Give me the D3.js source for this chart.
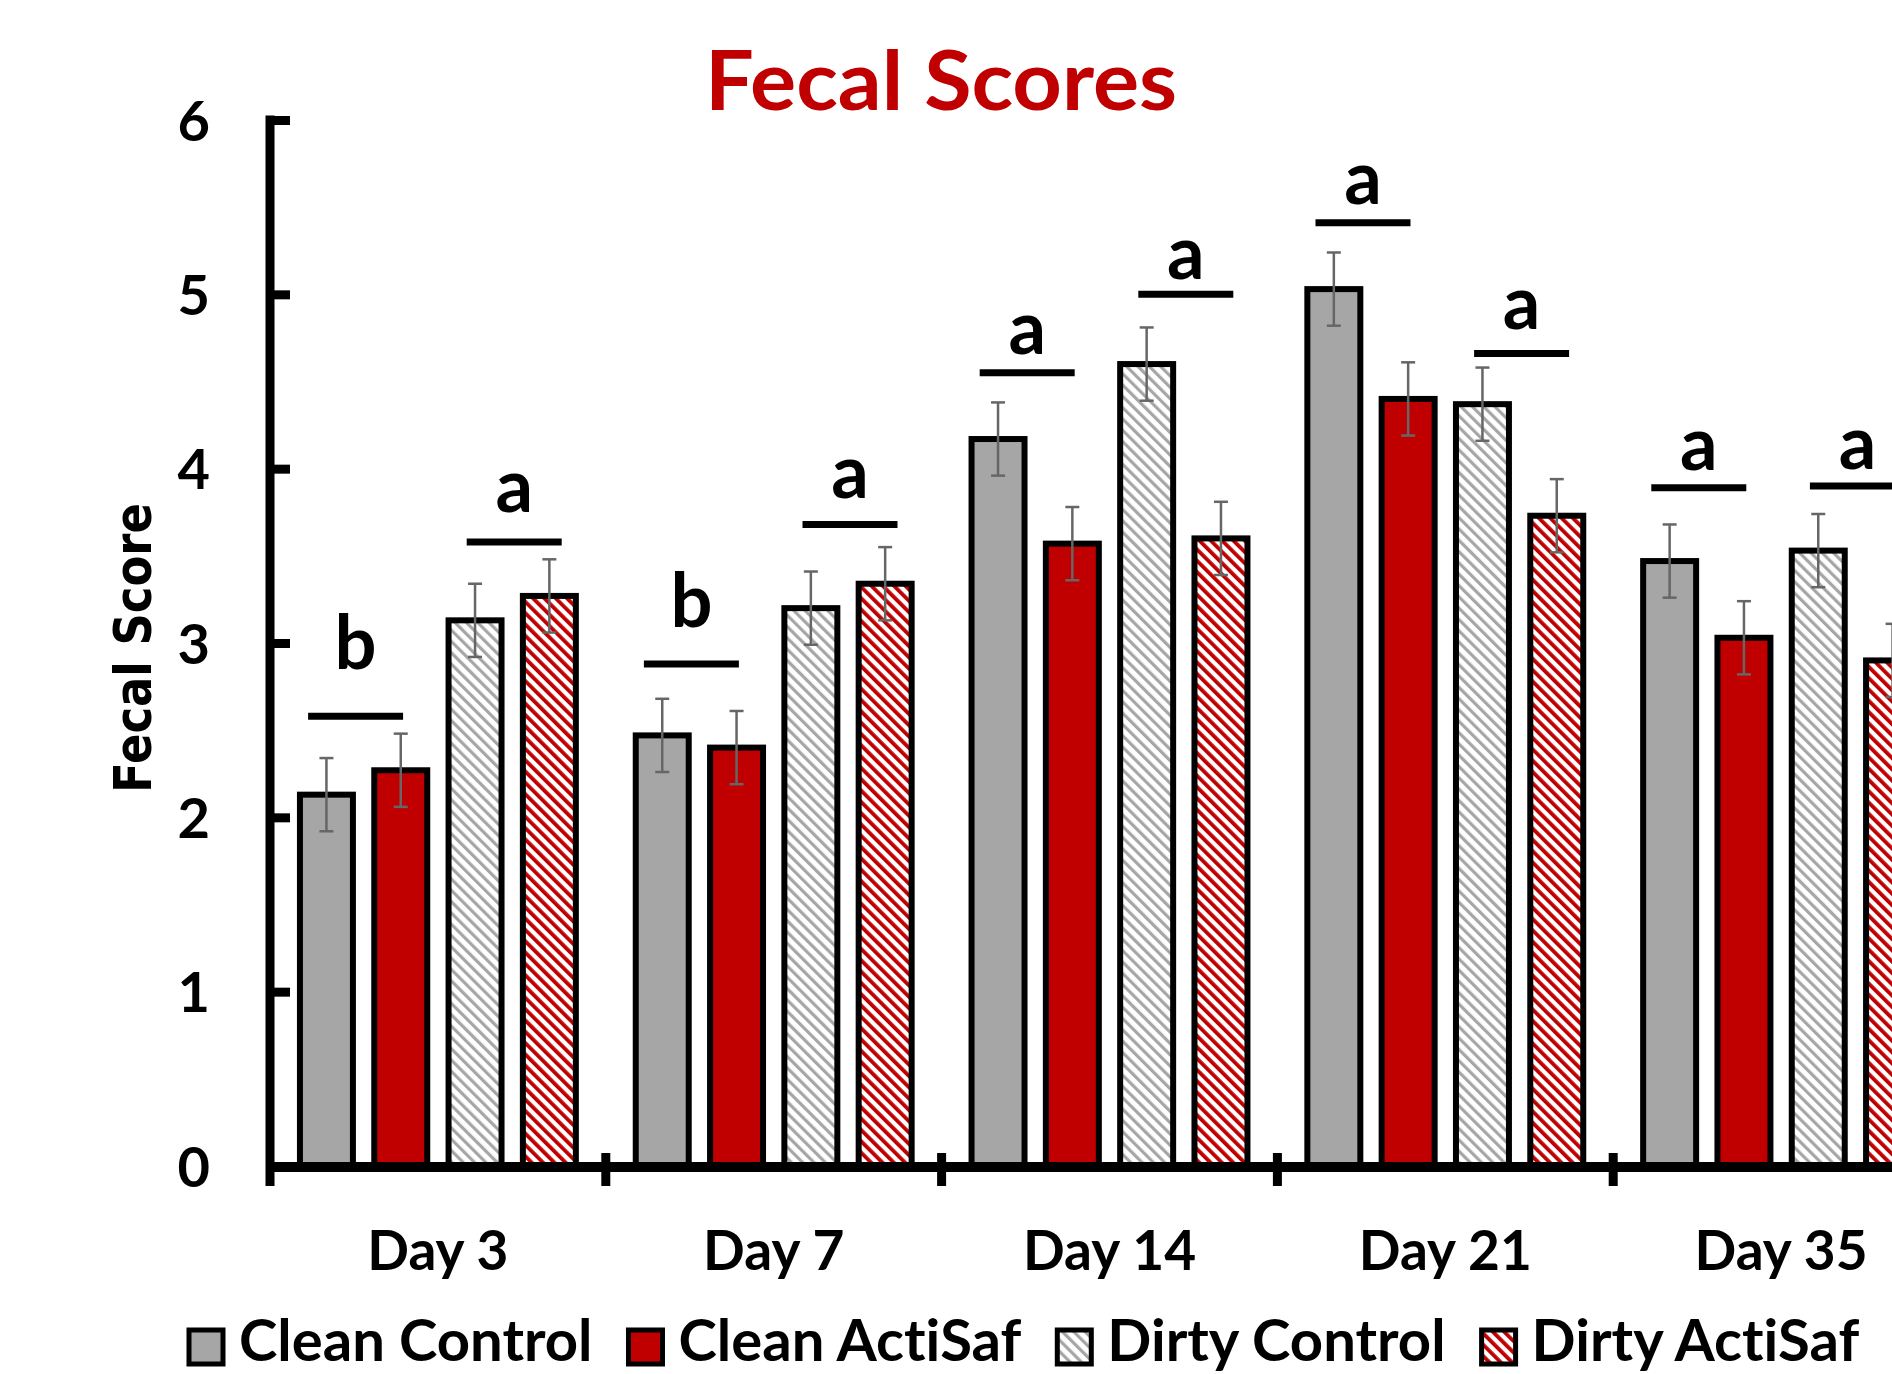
<!DOCTYPE html>
<html>
<head>
<meta charset="utf-8">
<script src="https://cdn.jsdelivr.net/npm/d3@7"></script>
<style>
  html, body { margin: 0; padding: 0; background: #fff; }
  svg { display: block; }
  text { font-variant-ligatures: none; font-feature-settings: "liga" 0, "dlig" 0; }
</style>
</head>
<body>
<svg id="chart" width="1892" height="1374"></svg>
<script>
// ---------------- DATA ----------------
const categories = ["Day 3", "Day 7", "Day 14", "Day 21", "Day 35"];
const seriesNames = ["Clean Control", "Clean ActiSaf", "Dirty Control", "Dirty ActiSaf"];
const cleanControl = [2.13, 2.47, 4.17, 5.03, 3.47];
const cleanActiSaf = [2.27, 2.40, 3.57, 4.40, 3.03];
const dirtyControl = [3.13, 3.20, 4.60, 4.37, 3.53];
const dirtyActiSaf = [3.27, 3.34, 3.60, 3.73, 2.90];
const errCleanControl = [0.21, 0.21, 0.21, 0.21, 0.21];
const errCleanActiSaf = [0.21, 0.21, 0.21, 0.21, 0.21];
const errDirtyControl = [0.21, 0.21, 0.21, 0.21, 0.21];
const errDirtyActiSaf = [0.21, 0.21, 0.21, 0.21, 0.21];
const yTicks = [0, 1, 2, 3, 4, 5, 6];
// significance annotations: pair of series indices, letter per category, line level & letter baseline level (score units)
const sigPairs = [[0, 1], [2, 3]];
const sigLetters = [["b", "a"], ["b", "a"], ["a", "a"], ["a", "a"], ["a", "a"]];
const sigLineLevel = [[2.58, 3.58], [2.88, 3.68], [4.55, 5.00], [5.41, 4.66], [3.89, 3.90]];
const sigLetterLevel = [[2.85, 3.75], [3.09, 3.83], [4.66, 5.09], [5.52, 4.80], [3.99, 4.00]];
const titleText = "Fecal Scores";
const yLabelText = "Fecal Score";

// ---------------- LAYOUT ----------------
const W = 1892, H = 1374;
const plotLeft = 270, plotTop = 120, plotBottom = 1166;
const bandW = 335.8;
const RED = "#C00000", GRAY = "#A6A6A6";
const calibriLike = "Lato, 'Open Sans', sans-serif";

const svg = d3.select("#chart");
svg.append("rect").attr("width", W).attr("height", H).attr("fill", "#fff");

const defs = svg.append("defs");
function hatch(id, color, sw) {
  const p = defs.append("pattern").attr("id", id)
    .attr("patternUnits", "userSpaceOnUse")
    .attr("width", 8).attr("height", 8)
    .attr("patternTransform", "rotate(-45)");
  p.append("rect").attr("width", 8).attr("height", 8).attr("fill", "#fff");
  p.append("rect").attr("x", 0).attr("y", 0).attr("width", sw).attr("height", 8).attr("fill", color);
}
hatch("hatchGray", GRAY, 3.2);
hatch("hatchRed", RED, 3.8);

const fills = [GRAY, RED, "url(#hatchGray)", "url(#hatchRed)"];
const seriesValues = [cleanControl, cleanActiSaf, dirtyControl, dirtyActiSaf];
const seriesErr = [errCleanControl, errCleanActiSaf, errDirtyControl, errDirtyActiSaf];

const x0 = d3.scaleBand().domain(categories)
  .range([plotLeft, plotLeft + bandW * categories.length]).paddingInner(0).paddingOuter(0);
const x1 = d3.scaleBand().domain(d3.range(seriesNames.length))
  .range([0, x0.bandwidth()]).paddingInner(0.287).paddingOuter(0.403);
const y = d3.scaleLinear().domain([0, 6]).range([plotBottom, plotTop]);

// ---------------- BARS ----------------
const data = [];
categories.forEach((c, ci) => seriesNames.forEach((s, si) => {
  data.push({ c, ci, si, v: seriesValues[si][ci], e: seriesErr[si][ci] });
}));

const gBars = svg.append("g");
gBars.selectAll("rect").data(data).join("rect")
  .attr("x", d => x0(d.c) + x1(d.si))
  .attr("y", d => y(d.v))
  .attr("width", x1.bandwidth())
  .attr("height", d => y(0) - y(d.v))
  .attr("fill", d => fills[d.si])
  .attr("stroke", "#000").attr("stroke-width", 6);

// error bars
const gErr = svg.append("g").attr("stroke", "#666").attr("stroke-width", 2.5).attr("fill", "none");
data.forEach(d => {
  const cx = x0(d.c) + x1(d.si) + x1.bandwidth() / 2;
  const yt = y(d.v + d.e), yb = y(d.v - d.e);
  gErr.append("line").attr("x1", cx).attr("x2", cx).attr("y1", yt).attr("y2", yb);
  gErr.append("line").attr("x1", cx - 7).attr("x2", cx + 7).attr("y1", yt).attr("y2", yt);
  gErr.append("line").attr("x1", cx - 7).attr("x2", cx + 7).attr("y1", yb).attr("y2", yb);
});

// ---------------- SIGNIFICANCE ----------------
const gSig = svg.append("g");
categories.forEach((c, ci) => {
  sigPairs.forEach((pair, pi) => {
    const a = x0(c) + x1(pair[0]);
    const b = x0(c) + x1(pair[1]) + x1.bandwidth();
    const mid = (a + b) / 2 - (pi === 0 ? 8 : -2);
    const half = 47.5;
    gSig.append("line")
      .attr("x1", mid - half).attr("x2", mid + half)
      .attr("y1", y(sigLineLevel[ci][pi])).attr("y2", y(sigLineLevel[ci][pi]))
      .attr("stroke", "#000").attr("stroke-width", 7);
    gSig.append("text")
      .attr("x", mid).attr("y", y(sigLetterLevel[ci][pi]))
      .attr("text-anchor", "middle")
      .attr("font-family", calibriLike).attr("font-weight", 700)
      .attr("font-size", 74).attr("fill", "#000")
      .text(sigLetters[ci][pi]);
  });
});

// ---------------- AXES ----------------
const axisW = 9;
// y axis with inward ticks
const yAxis = d3.axisLeft(y).tickValues(yTicks).tickFormat(d3.format("d"))
  .tickSizeInner(-20).tickSizeOuter(0).tickPadding(60);
const gY = svg.append("g").attr("transform", `translate(${plotLeft},0)`).call(yAxis);
gY.select(".domain").remove();
gY.selectAll(".tick line").attr("stroke", "#000").attr("stroke-width", axisW);
gY.selectAll(".tick text")
  .attr("font-family", calibriLike).attr("font-weight", 700)
  .attr("font-size", 56).attr("fill", "#000").attr("dy", "0.36em");
// y axis line
svg.append("line").attr("x1", plotLeft).attr("x2", plotLeft)
  .attr("y1", y(6) - axisW / 2).attr("y2", plotBottom + 20)
  .attr("stroke", "#000").attr("stroke-width", axisW);

// x axis line
svg.append("line").attr("x1", plotLeft).attr("x2", W)
  .attr("y1", plotBottom + 1).attr("y2", plotBottom + 1)
  .attr("stroke", "#000").attr("stroke-width", 10);
// category boundary ticks
categories.forEach((c, ci) => {
  if (ci === 0) return;
  svg.append("line").attr("x1", x0(c)).attr("x2", x0(c))
    .attr("y1", plotBottom - 13).attr("y2", plotBottom + 20)
    .attr("stroke", "#000").attr("stroke-width", axisW);
});
// category labels
const xAxis = d3.axisBottom(x0).tickSize(0).tickPadding(0);
const gX = svg.append("g").attr("transform", `translate(0,${plotBottom})`).call(xAxis);
gX.select(".domain").remove();
gX.selectAll(".tick text")
  .attr("font-family", calibriLike).attr("font-weight", 700)
  .attr("font-size", 55).attr("fill", "#000")
  .attr("y", 104).attr("dy", 0);

// ---------------- TITLES ----------------
svg.append("text").attr("x", 941).attr("y", 110)
  .attr("text-anchor", "middle")
  .attr("font-family", calibriLike).attr("font-weight", 700)
  .attr("font-size", 83).attr("fill", RED)
  .attr("textLength", 472).attr("lengthAdjust", "spacingAndGlyphs")
  .text(titleText);

svg.append("text").attr("transform", "translate(151,648) rotate(-90)")
  .attr("text-anchor", "middle")
  .attr("font-family", "'DejaVu Sans', Verdana, sans-serif").attr("font-weight", 700)
  .attr("font-size", 52).attr("fill", "#000")
  .attr("textLength", 290).attr("lengthAdjust", "spacingAndGlyphs")
  .text(yLabelText);

// ---------------- LEGEND ----------------
const gLeg = svg.append("g");
let lx = 189;
const swatch = 34, legBase = 1361;
seriesNames.forEach((s, si) => {
  gLeg.append("rect").attr("x", lx).attr("y", 1330).attr("width", swatch).attr("height", swatch)
    .attr("fill", fills[si]).attr("stroke", "#000").attr("stroke-width", 5);
  const t = gLeg.append("text").attr("x", lx + swatch + 16).attr("y", legBase)
    .attr("font-family", calibriLike).attr("font-weight", 700)
    .attr("font-size", 58).attr("fill", "#000").text(s);
  const w = t.node().getComputedTextLength();
  lx = lx + swatch + 16 + w + 36;
});
</script>
</body>
</html>
